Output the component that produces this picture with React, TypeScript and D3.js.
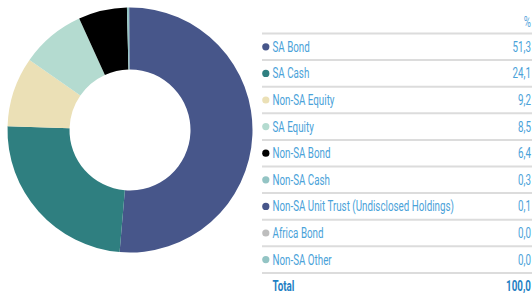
import { useEffect, useRef } from 'react';
import * as d3 from 'd3';

const labels = [
  'SA Bond',
  'SA Cash',
  'Non-SA Equity',
  'SA Equity',
  'Non-SA Bond',
  'Non-SA Cash',
  'Non-SA Unit Trust (Undisclosed Holdings)',
  'Africa Bond',
  'Non-SA Other',
];
const values = [51.3, 24.1, 9.2, 8.5, 6.4, 0.3, 0.1, 0.0, 0.0];
const colors = ['#47568a', '#2f7f80', '#ebe0b6', '#b4dbd0', '#000000', '#93c4c4', '#47568a', '#bdbdbd', '#93c4c4'];
const totalLabel = 'Total';
const totalValue = 100.0;

const fmt = (v: number) => v.toFixed(1).replace('.', ',');
// condensed look: no narrow font installed, so squeeze horizontally
const SQ = 0.7;

export default function App() {
  const ref = useRef<SVGSVGElement>(null);

  useEffect(() => {
    if (!ref.current) return;
    const svg = d3.select(ref.current);
    svg.selectAll('*').remove();

    // donut
    const cx = 130, cy = 130, outer = 122.5, inner = 60.5;
    const pie = d3.pie<number>().sort(null).value((d) => d);
    const arc = d3.arc<d3.PieArcDatum<number>>().innerRadius(inner).outerRadius(outer);
    const g = svg.append('g').attr('transform', `translate(${cx},${cy})`);
    g.selectAll('path')
      .data(pie(values))
      .enter()
      .append('path')
      .attr('d', arc)
      .attr('fill', (_, i) => colors[i]);

    // table
    const x0 = 262, x1 = 532, textX = 272.5, valX = 531;
    const y = d3.scaleLinear().domain([0, 1]).range([33.5, 60.1]);
    const t = svg.append('g').attr('font-family', 'Roboto, sans-serif').attr('font-size', 14);

    const put = (x: number, yy: number) => `translate(${x},${yy}) scale(${SQ},1)`;

    t.append('text').attr('transform', put(valX, 26.5)).attr('text-anchor', 'end').attr('fill', '#5aa7dc').text('%');

    for (let k = 0; k <= labels.length; k++) {
      t.append('line')
        .attr('x1', x0).attr('x2', x1)
        .attr('y1', y(k)).attr('y2', y(k))
        .attr('stroke', '#dcdcdc').attr('stroke-width', 2);
    }

    const rows = t.selectAll('g.row').data(labels).enter().append('g').attr('class', 'row')
      .attr('transform', (_, i) => `translate(0,${(y(i) + y(i + 1)) / 2})`);
    rows.append('circle').attr('cx', 265.8).attr('cy', 0).attr('r', 3.6).attr('fill', (_, i) => colors[i]);
    rows.append('text').attr('transform', put(textX, 5)).attr('fill', '#4aa2d9').text((d) => d);
    rows.append('text').attr('transform', put(valX, 5)).attr('text-anchor', 'end').attr('fill', '#4aa2d9')
      .text((_, i) => fmt(values[i]));

    const ty = (y(labels.length) + y(labels.length + 1)) / 2 + 5;
    t.append('text').attr('transform', put(textX, ty)).attr('font-weight', 'bold').attr('fill', '#1f7fc4').text(totalLabel);
    t.append('text').attr('transform', put(valX, ty)).attr('text-anchor', 'end').attr('font-weight', 'bold').attr('fill', '#1f7fc4').text(fmt(totalValue));
  }, []);

  return (
    <svg ref={ref} width={532} height={293} style={{ position: 'absolute', left: 0, top: 0, background: '#fff' }} />
  );
}
